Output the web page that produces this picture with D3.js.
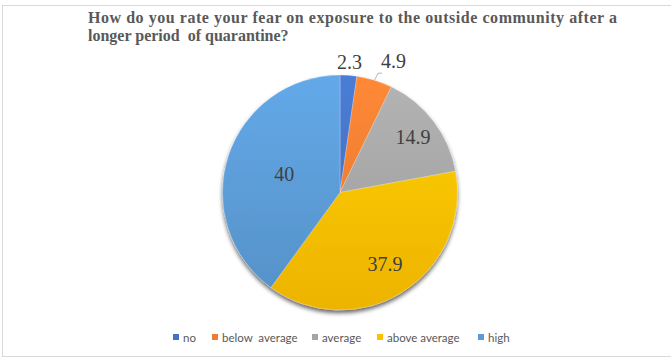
<!DOCTYPE html>
<html>
<head>
<meta charset="utf-8">
<script src="https://cdn.jsdelivr.net/npm/d3@7"></script>
<style>
  html, body { margin: 0; padding: 0; background: #fff; }
  svg { display: block; }
  text { white-space: pre; }
</style>
</head>
<body>
<svg id="chart" width="671" height="358"></svg>
<script>
// Survey responses (percent of respondents)
const categories = ["no", "below  average", "average", "above average", "high"];
const values = [2.3, 4.9, 14.9, 37.9, 40];
const colors = ["#4472C4", "#ED7D31", "#A5A5A5", "#FFC000", "#5B9BD5"];
const titleLines = [
  "How do you rate your fear on exposure to the outside community after a",
  "longer period  of quarantine?"
];

const W = 671, H = 358;
const cx = 340, cy = 192.5, R = 117.5;

const svg = d3.select("#chart");

// outer frame
svg.append("rect")
  .attr("x", 2.5).attr("y", 5.5)
  .attr("width", W + 10).attr("height", 351)
  .attr("fill", "#fff").attr("stroke", "#d9d9d9").attr("stroke-width", 1);

const defs = svg.append("defs");

// soft shadow under the pie
const shadow = defs.append("filter").attr("id", "shadow")
  .attr("x", "-20%").attr("y", "-20%").attr("width", "140%").attr("height", "140%");
shadow.append("feGaussianBlur").attr("in", "SourceAlpha").attr("stdDeviation", 2.2);
shadow.append("feOffset").attr("dx", 0).attr("dy", 3).attr("result", "off");
shadow.append("feComponentTransfer").append("feFuncA").attr("type", "linear").attr("slope", 0.6);
const merge = shadow.append("feMerge");
merge.append("feMergeNode");
merge.append("feMergeNode").attr("in", "SourceGraphic");

// light-to-dark vertical gradient per slice colour (pie-local coordinates)
colors.forEach((c, i) => {
  const g = defs.append("linearGradient").attr("id", "grad" + i)
    .attr("gradientUnits", "userSpaceOnUse")
    .attr("x1", 0).attr("y1", -R).attr("x2", 0).attr("y2", R);
  g.append("stop").attr("offset", "0%").attr("stop-color", d3.color(c).brighter(0.25));
  g.append("stop").attr("offset", "100%").attr("stop-color", d3.color(c).darker(0.2));
});

// title (first line is spread to the full title width)
svg.append("g").selectAll("text").data(titleLines).join("text")
  .attr("x", 88).attr("y", (d, i) => 22.5 + i * 18.5)
  .attr("font-family", "'Liberation Serif', 'Times New Roman', serif")
  .attr("font-weight", "bold").attr("font-size", 16)
  .attr("fill", "#595959")
  .attr("textLength", (d, i) => i === 0 ? 529 : null)
  .attr("lengthAdjust", "spacing")
  .text(d => d);

const pie = d3.pie().sort(null).value(d => d);
const arcs = pie(values);
const arc = d3.arc().innerRadius(0).outerRadius(R);

const pieG = svg.append("g").attr("transform", `translate(${cx},${cy})`);
pieG.append("g").attr("filter", "url(#shadow)")
  .selectAll("path").data(arcs).join("path")
  .attr("d", arc)
  .attr("fill", (d, i) => `url(#grad${i})`)
  .attr("stroke", "rgba(255,255,255,0.35)").attr("stroke-width", 0.7);

// data labels: small slices outside, others inside
const labelRadius = [1.115, 1.17, 0.78, 0.72, 0.5];
const labelPos = arcs.map((d, i) => {
  const a = (d.startAngle + d.endAngle) / 2;
  const r = R * labelRadius[i];
  return [Math.sin(a) * r, -Math.cos(a) * r];
});

// leader line for the "below average" label
{
  const d = arcs[1];
  const a = (d.startAngle + d.endAngle) / 2;
  const p0 = [Math.sin(a) * R, -Math.cos(a) * R];
  const p1 = [p0[0] + 3.5, p0[1] - 7];
  const p2 = [p1[0] + 4, p1[1]];
  pieG.append("path")
    .attr("d", d3.line()([p0, p1, p2]))
    .attr("fill", "none").attr("stroke", "#a6a6a6").attr("stroke-width", 0.8);
}

pieG.append("g").selectAll("text").data(arcs).join("text")
  .attr("x", (d, i) => i === 1 ? labelPos[i][0] + 13 : labelPos[i][0])
  .attr("y", (d, i) => labelPos[i][1])
  .attr("text-anchor", "middle")
  .attr("dominant-baseline", "central")
  .attr("font-family", "'Liberation Serif', 'Times New Roman', serif")
  .attr("font-size", 20)
  .attr("fill", "#404040")
  .text(d => String(d.data));

// legend
const legend = svg.append("g").attr("transform", "translate(0,337)");
const legendX = [173, 212, 312, 377, 478];
const items = legend.selectAll("g").data(categories).join("g")
  .attr("transform", (d, i) => `translate(${legendX[i]},0)`);
items.append("rect")
  .attr("x", 0).attr("y", -3).attr("width", 6).attr("height", 6)
  .attr("fill", (d, i) => colors[i]);
items.append("text")
  .attr("x", 10).attr("y", 0)
  .attr("dominant-baseline", "central")
  .attr("font-family", "Lato, 'Open Sans', sans-serif")
  .attr("font-size", 11.5)
  .attr("fill", "#595959")
  .text(d => d);
</script>
</body>
</html>
